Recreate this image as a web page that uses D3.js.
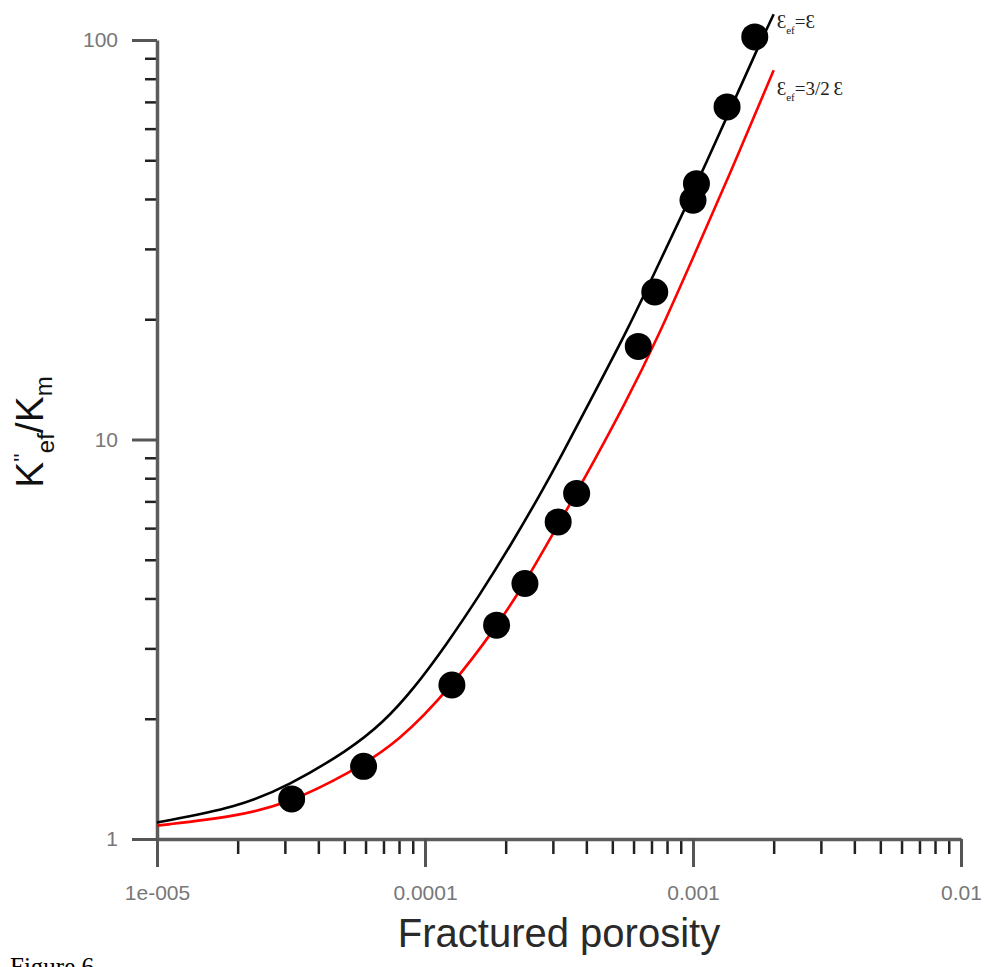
<!DOCTYPE html>
<html>
<head>
<meta charset="utf-8">
<script src="https://cdn.jsdelivr.net/npm/d3@7"></script>
<style>
  body { margin: 0; background: #fff; }
  svg { display: block; }
</style>
</head>
<body>
<div id="chart"></div>
<script>
// values (fractured porosity vs K''ef/Km)
const pointsPorosity = [3.18e-5, 5.9e-5, 1.26e-4, 1.85e-4, 2.36e-4, 3.14e-4, 3.68e-4, 6.25e-4, 7.2e-4, 1.0e-3, 1.03e-3, 1.34e-3, 1.7e-3];
const pointsRatio = [1.26, 1.52, 2.43, 3.43, 4.36, 6.22, 7.33, 17.1, 23.4, 39.7, 43.7, 68, 101.8];

// eps_ef = eps
const blackPorosity = [1e-5, 2e-5, 3.1e-5, 5.2e-5, 7e-5, 9e-5, 1.2e-4, 1.6e-4, 2.1e-4, 2.7e-4, 3.2e-4, 4.2e-4, 5.7e-4, 7.5e-4, 1e-3, 1.35e-3, 1.75e-3, 2e-3];
const blackRatio = [1.10, 1.20, 1.36, 1.67, 1.96, 2.36, 3.06, 4.08, 5.47, 7.32, 9.01, 12.76, 18.8, 27.8, 41.6, 65, 96, 116];

// eps_ef = 3/2 eps
const redPorosity = [1e-5, 2e-5, 3.1e-5, 5.2e-5, 8e-5, 1.25e-4, 1.85e-4, 2.35e-4, 3.15e-4, 3.7e-4, 5.7e-4, 7.5e-4, 1e-3, 1.35e-3, 2e-3];
const redRatio = [1.08, 1.14, 1.23, 1.46, 1.75, 2.4, 3.4, 4.35, 6.15, 7.4, 12.6, 18.4, 28.5, 45, 84];

const xMajorTicks = [1e-5, 1e-4, 1e-3, 1e-2];
const xTickLabels = ['1e-005', '0.0001', '0.001', '0.01'];
const yMajorTicks = [1, 10, 100];
const yTickLabels = ['1', '10', '100'];

const outerWidth = 986;
const outerHeight = 967;
const margin = { top: 40, right: 25, bottom: 128, left: 157 };
const width = outerWidth - margin.left - margin.right;
const height = outerHeight - margin.top - margin.bottom;

const svgRoot = d3.select('#chart')
  .append('svg')
  .attr('width', outerWidth)
  .attr('height', outerHeight);

svgRoot.append('rect')
  .attr('width', outerWidth)
  .attr('height', outerHeight)
  .attr('fill', '#fff');

const svg = svgRoot.append('g')
  .attr('transform', `translate(${margin.left}, ${margin.top})`);

const x = d3.scaleLog().domain([1e-5, 1e-2]).range([0, width]);
const y = d3.scaleLog().domain([1, 100]).range([height, 0]);

const isMajor = v => Math.abs(Math.log10(v) - Math.round(Math.log10(v))) < 1e-9;
const xMinor = x.ticks().filter(v => !isMajor(v));
const yMinor = y.ticks().filter(v => !isMajor(v));

// minor ticks
const gxMinor = svg.append('g')
  .attr('transform', `translate(0, ${height})`)
  .call(d3.axisBottom(x).tickValues(xMinor).tickSize(15).tickSizeOuter(0).tickFormat(''));
const gyMinor = svg.append('g')
  .call(d3.axisLeft(y).tickValues(yMinor).tickSize(12).tickSizeOuter(0).tickFormat(''));
[gxMinor, gyMinor].forEach(g => {
  g.select('.domain').remove();
  g.selectAll('.tick line').attr('stroke', '#222').attr('stroke-width', 2.5);
});

// major ticks + labels
const gx = svg.append('g')
  .attr('transform', `translate(0, ${height})`)
  .call(d3.axisBottom(x)
    .tickValues(xMajorTicks)
    .tickSize(28)
    .tickSizeOuter(0)
    .tickPadding(18)
    .tickFormat((d, i) => xTickLabels[i]));

const gy = svg.append('g')
  .call(d3.axisLeft(y)
    .tickValues(yMajorTicks)
    .tickSize(25)
    .tickSizeOuter(0)
    .tickPadding(14)
    .tickFormat((d, i) => yTickLabels[i]));

[gx, gy].forEach(g => {
  g.select('.domain').attr('stroke', '#5c5c5c').attr('stroke-width', 3.5);
  g.selectAll('.tick line').attr('stroke', '#555').attr('stroke-width', 3);
  g.selectAll('.tick text')
    .attr('fill', '#777')
    .style('font-family', 'Liberation Sans, Arial, sans-serif')
    .style('font-size', '21px');
});

// curves (smoothed through the read values)
const line = d3.line()
  .x(d => x(d[0]))
  .y(d => y(d[1]))
  .curve(d3.curveBasis);

svg.append('path')
  .datum(blackPorosity.map((v, i) => [v, blackRatio[i]]))
  .attr('d', line)
  .style('fill', 'none')
  .style('stroke', '#000')
  .style('stroke-width', 2.6);

svg.append('path')
  .datum(redPorosity.map((v, i) => [v, redRatio[i]]))
  .attr('d', line)
  .style('fill', 'none')
  .style('stroke', '#ff0000')
  .style('stroke-width', 2.6);

// measured points
svg.append('g')
  .selectAll('circle')
  .data(pointsPorosity.map((v, i) => [v, pointsRatio[i]]))
  .enter()
  .append('circle')
  .attr('cx', d => x(d[0]))
  .attr('cy', d => y(d[1]))
  .attr('r', 13.5)
  .attr('fill', '#000');

// curve labels
const curveLabel = (yPos, rest) => {
  const t = svg.append('text')
    .attr('x', x(2e-3) + 3)
    .attr('y', yPos)
    .style('font-family', 'Liberation Serif, DejaVu Serif, serif')
    .style('font-size', '19px')
    .attr('fill', '#222');
  t.append('tspan').text('\u0190');
  t.append('tspan').attr('dy', 6).style('font-size', '11px').text('ef');
  t.append('tspan').attr('dy', -6).text(rest);
};
curveLabel(-12, '=\u0190');
curveLabel(55, '=3/2\u2009\u0190');

// axis titles
svg.append('text')
  .attr('x', width / 2)
  .attr('y', height + 108)
  .attr('text-anchor', 'middle')
  .attr('fill', '#2a2a2a')
  .style('font-family', 'Liberation Sans, Arial, sans-serif')
  .style('font-size', '40px')
  .text('Fractured porosity');

const yTitle = svg.append('text')
  .attr('transform', `translate(${43 - margin.left}, ${432 - margin.top}) rotate(-90)`)
  .attr('text-anchor', 'middle')
  .attr('fill', '#111')
  .style('font-family', 'Liberation Sans, Arial, sans-serif')
  .style('font-size', '39px');
yTitle.append('tspan').text('K');
yTitle.append('tspan').attr('dy', -14).style('font-size', '22px').text('\'\'');
yTitle.append('tspan').attr('dy', 25).style('font-size', '24px').text('ef');
yTitle.append('tspan').attr('dy', -11).text('/K');
yTitle.append('tspan').attr('dy', 9).style('font-size', '24px').text('m');

// caption, cut off at the bottom edge like the source
svgRoot.append('text')
  .attr('x', 10)
  .attr('y', 975)
  .attr('fill', '#000')
  .style('font-family', 'Liberation Serif, Times New Roman, serif')
  .style('font-size', '25px')
  .text('Figure 6');
</script>
</body>
</html>
